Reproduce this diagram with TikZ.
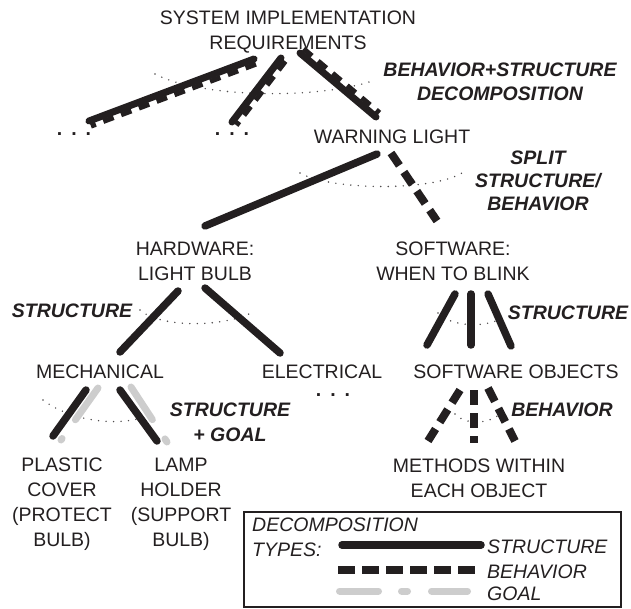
\documentclass[tikz,border=0pt]{standalone}
\usepackage{fontspec}
\setmainfont{Liberation Sans}
\usetikzlibrary{calc}
\definecolor{ink}{RGB}{35,31,32}
\definecolor{goalgray}{RGB}{205,205,205}
\begin{document}
\begin{tikzpicture}[x=1pt,y=-1pt,
  every node/.style={font=\fontsize{19.5}{25}\selectfont, inner sep=0pt, align=center, anchor=base, text=ink},
  lbl/.style={font=\fontsize{19.5}{24}\selectfont\bfseries\itshape},
  leg/.style={font=\fontsize{19.5}{25}\selectfont\itshape, anchor=base west, align=left},
  strline/.style={draw=ink, line width=7.5pt, line cap=round},
  behline/.style={draw=ink, line width=8pt, dash pattern=on 15pt off 8pt},
  teeth/.style={draw=ink, line width=5pt, dash pattern=on 11pt off 8pt},
  goalline/.style={draw=goalgray, line width=7pt, line cap=round, dash pattern=on 39pt off 23pt on 6pt off 24pt},
  arcdots/.style={draw=ink!80, line width=1.6pt, line cap=round, dash pattern=on 0pt off 7.5pt},
  ellip/.style={font=\fontsize{19.5}{25}\selectfont\bfseries}
]
\useasboundingbox (0,0) rectangle (631,609);

% ---------- text nodes (anchor = baseline of last line) ----------
\node (sys) at (288,50) {SYSTEM IMPLEMENTATION\\REQUIREMENTS};
\node (warn) at (392,144) {WARNING LIGHT};
\node (hw) at (195,281) {HARDWARE:\\LIGHT BULB};
\node (sw) at (453,281) {SOFTWARE:\\WHEN TO BLINK};
\node (mech) at (100,378) {MECHANICAL};
\node (elec) at (322,378) {ELECTRICAL};
\node (swo) at (516,378) {SOFTWARE OBJECTS};
\node (plastic) at (62,546) {PLASTIC\\COVER\\(PROTECT\\BULB)};
\node (lamp) at (181,546) {LAMP\\HOLDER\\(SUPPORT\\BULB)};
\node (meth) at (479,497) {METHODS WITHIN\\EACH OBJECT};

\node[ellip] (dotsA) at (74,136) {.\hspace{9pt}.\hspace{9pt}.};
\node[ellip] (dotsB) at (232,136) {.\hspace{9pt}.\hspace{9pt}.};
\node[ellip] (dotsC) at (333,396) {.\hspace{9pt}.\hspace{9pt}.};

% labels
\node[lbl] (lblBS) at (500,101) {BEHAVIOR+STRUCTURE\\DECOMPOSITION};
\node[lbl,font=\fontsize{19.5}{23}\selectfont\bfseries\itshape] (lblSplit) at (538,211) {SPLIT\\STRUCTURE/\\BEHAVIOR};
\node[lbl] (lblS1) at (72,317) {STRUCTURE};
\node[lbl] (lblS2) at (568,319) {STRUCTURE};
\node[lbl,font=\fontsize{19.5}{25}\selectfont\bfseries\itshape] (lblSG) at (230,441) {STRUCTURE\\+ GOAL};
\node[lbl] (lblB) at (562,416) {BEHAVIOR};

% ---------- connector end points ----------
\coordinate (r1a) at (254,59);  \coordinate (r1b) at (89,121);
\coordinate (r2a) at (281,58);  \coordinate (r2b) at (232,122);
\coordinate (r3a) at (300,53);  \coordinate (r3b) at (376,117);
\coordinate (wA) at (377,154);  \coordinate (hwT) at (205,226);
\coordinate (wB) at (391,153);  \coordinate (swT) at (437,221);
\coordinate (hwL) at (178,291); \coordinate (mechT) at (120,352);
\coordinate (hwR) at (205,288); \coordinate (elecT) at (280,353);
\coordinate (swL) at (455,294); \coordinate (swoL) at (427,345);
\coordinate (swM) at (471,294); \coordinate (swoM) at (471,345);
\coordinate (swR) at (488,294); \coordinate (swoR) at (511,346);
\coordinate (swoa) at (460,390); \coordinate (methL) at (428,441);
\coordinate (swob) at (474,390); \coordinate (methM) at (474,443);
\coordinate (swoc) at (488,388); \coordinate (methR) at (515,441);
\coordinate (mL) at (86,390);   \coordinate (plT) at (53,436);
\coordinate (mLg) at (98,388);  \coordinate (plTg) at (61,440);
\coordinate (mR) at (120,390);  \coordinate (lpT) at (157,441);
\coordinate (mRg) at (131,387); \coordinate (lpTg) at (167,442);

% ---------- dotted arcs ----------
\draw[arcdots] (155,74) .. controls (200,98) and (320,100) .. (375,80);
\draw[arcdots] (300,173) .. controls (330,190) and (430,192) .. (462,173);
\draw[arcdots] (140,310) .. controls (160,328) and (225,328) .. (255,311);
\draw[arcdots] (438,313) .. controls (452,328) and (490,328) .. (505,316);
\draw[arcdots] (43,400) .. controls (70,421) and (120,428) .. (150,415);
\draw[arcdots] (455,414) .. controls (465,425) and (490,425) .. (502,412);

% ---------- behavior+structure connectors ----------
\foreach \a/\b in {r1a/r1b, r2a/r2b, r3a/r3b}{
  \draw[strline, line width=7pt] (\a) -- (\b);
  \draw[teeth] ($(\a)!5.5pt!90:(\b)$) -- ($(\b)!5.5pt!-90:(\a)$);
}

% ---------- structure / behavior connectors ----------
\draw[strline] (wA) -- (hwT);
\draw[behline] (wB) -- (swT);
\draw[strline] (hwL) -- (mechT);
\draw[strline] (hwR) -- (elecT);
\draw[strline] (swL) -- (swoL);
\draw[strline] (swM) -- (swoM);
\draw[strline] (swR) -- (swoR);
\draw[behline] (swoa) -- (methL);
\draw[behline] (swob) -- (methM);
\draw[behline] (swoc) -- (methR);

% structure + goal
\draw[goalline] (mLg) -- (plTg);
\draw[goalline] (mRg) -- (lpTg);
\draw[strline] (mL) -- (plT);
\draw[strline] (mR) -- (lpT);

% ---------- legend ----------
\node[draw=ink, line width=1.8pt, minimum width=377pt, minimum height=95pt, anchor=north west] (legend) at (243,511) {};
\node[leg] (legtitle) at (252,556) {DECOMPOSITION\\TYPES:};
\coordinate (ls1) at (342,545); \coordinate (ls2) at (481,545);
\coordinate (lb1) at (338,570); \coordinate (lb2) at (478,570);
\coordinate (lg1) at (339.5,591); \coordinate (lg2) at (467.5,591);
\draw[strline] (ls1) -- (ls2);
\draw[draw=ink, line width=8pt, dash pattern=on 17pt off 7pt] (lb1) -- (lb2);
\draw[goalline, dash pattern=on 39pt off 23pt on 6pt off 24pt on 36pt off 50pt] (lg1) -- (lg2);
\node[leg] (legS) at (487,553) {STRUCTURE};
\node[leg] (legB) at (487,578) {BEHAVIOR};
\node[leg] (legG) at (487,600) {GOAL};
\end{tikzpicture}
\end{document}
